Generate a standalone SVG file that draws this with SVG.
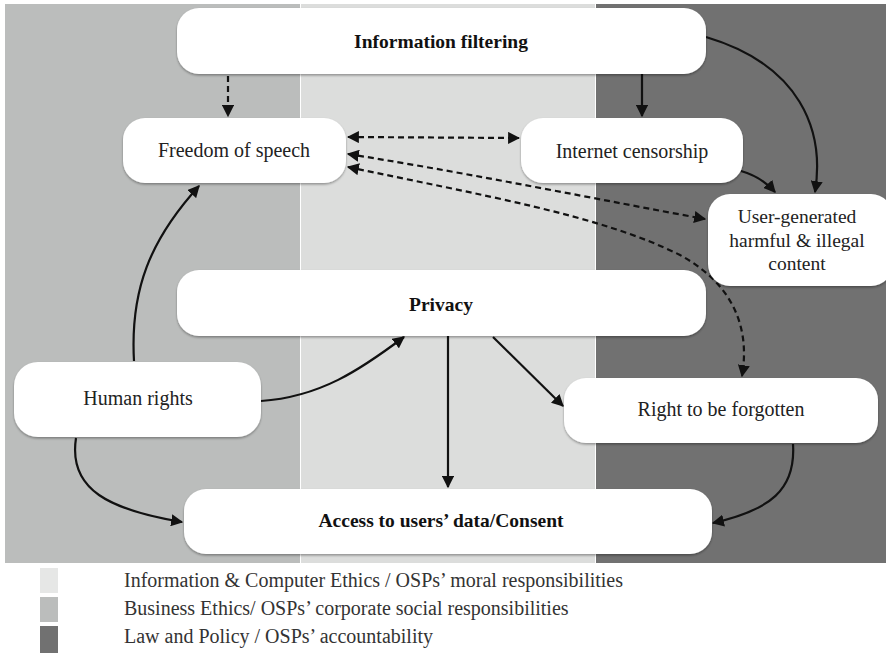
<svg xmlns="http://www.w3.org/2000/svg" width="886" height="653" viewBox="0 0 886 653">
<defs>
<style>
.node{fill:#fff;filter:url(#sh)}
.t{font-family:'Liberation Serif','DejaVu Serif','Times New Roman',serif;font-size:20px;fill:#222;text-anchor:middle}
.b{font-weight:bold;fill:#111;font-size:19.5px}
.u{font-size:19.5px}
.lg{font-family:'Liberation Serif','DejaVu Serif','Times New Roman',serif;font-size:20px;fill:#333}
.c{fill:none;stroke:#111;stroke-width:2.2}
.d{stroke-dasharray:6 4}
</style>
<filter id="sh" x="-5%" y="-10%" width="110%" height="125%">
<feDropShadow dx="0" dy="1.5" stdDeviation="1.2" flood-color="#000" flood-opacity="0.35"/>
</filter>
<marker id="ar" viewBox="0 0 10 10" refX="9" refY="5" markerWidth="5.5" markerHeight="5.5" orient="auto-start-reverse" markerUnits="strokeWidth">
<path d="M0,0 L10,5 L0,10 z" fill="#111"/>
</marker>
</defs>
<rect width="886" height="653" fill="#fff"/>
<g id="bands">
<rect x="5" y="4" width="295" height="559" fill="#bbbdbc"/>
<rect x="301" y="4" width="294" height="559" fill="#dcdddc"/>
<rect x="596" y="4" width="290" height="559" fill="#717171"/>
</g>
<g id="connectors">
<path class="c d" d="M228,76 L228,116" marker-end="url(#ar)"/>
<path class="c" d="M642,74 L642,116" marker-end="url(#ar)"/>
<path class="c" d="M706,37 C800,65 825,130 815,192" marker-end="url(#ar)"/>
<path class="c" d="M741,171 C755,175 767,183 775,192" marker-end="url(#ar)"/>
<path class="c d" d="M348,137 L519,138" marker-start="url(#ar)" marker-end="url(#ar)"/>
<path class="c d" d="M348,154 C480,175 600,200 705,219" marker-start="url(#ar)" marker-end="url(#ar)"/>
<path class="c d" d="M348,167 C480,195 600,215 680,255 C735,285 750,330 742,376" marker-start="url(#ar)" marker-end="url(#ar)"/>
<path class="c" d="M134,361 C130,290 150,240 199,186" marker-end="url(#ar)"/>
<path class="c" d="M261,401 C320,397 360,370 404,337" marker-end="url(#ar)"/>
<path class="c" d="M76,438 C68,490 110,510 182,522" marker-end="url(#ar)"/>
<path class="c" d="M448,336 L448,487" marker-end="url(#ar)"/>
<path class="c" d="M493,337 L563,406" marker-end="url(#ar)"/>
<path class="c" d="M793,444 C796,490 770,510 713,523" marker-end="url(#ar)"/>
</g>
<g id="n-info-filtering">
<rect class="node" x="177" y="8" width="529" height="66" rx="22"/>
<text class="t b" x="441" y="48">Information filtering</text>
</g>
<g id="n-freedom">
<rect class="node" x="123" y="118" width="223" height="65" rx="22"/>
<text class="t" x="234" y="157">Freedom of speech</text>
</g>
<g id="n-censorship">
<rect class="node" x="521" y="118" width="222" height="65" rx="22"/>
<text class="t" x="632" y="158">Internet censorship</text>
</g>
<g id="n-ugc">
<rect class="node" x="708" y="194" width="185" height="92" rx="22"/>
<text class="t u" x="797" y="223">User-generated</text>
<text class="t u" x="797" y="247">harmful &amp; illegal</text>
<text class="t u" x="797" y="270">content</text>
</g>
<g id="n-privacy">
<rect class="node" x="177" y="270" width="529" height="66" rx="22"/>
<text class="t b" x="441" y="311">Privacy</text>
</g>
<g id="n-human">
<rect class="node" x="14" y="362" width="247" height="75" rx="24"/>
<text class="t" x="138" y="405">Human rights</text>
</g>
<g id="n-rtbf">
<rect class="node" x="564" y="378" width="314" height="65" rx="22"/>
<text class="t" x="721" y="416">Right to be forgotten</text>
</g>
<g id="n-access">
<rect class="node" x="184" y="489" width="528" height="65" rx="22"/>
<text class="t b" x="441" y="527">Access to users’ data/Consent</text>
</g>
<g id="legend">
<rect x="40" y="568" width="18" height="25" fill="#e6e7e6"/>
<rect x="40" y="597" width="18" height="25" fill="#bbbdbc"/>
<rect x="40" y="626" width="18" height="27" fill="#717171"/>
<text class="lg" x="124" y="587">Information &amp; Computer Ethics / OSPs’ moral responsibilities</text>
<text class="lg" x="124" y="615">Business Ethics/ OSPs’ corporate social responsibilities</text>
<text class="lg" x="124" y="643">Law and Policy / OSPs’ accountability</text>
</g>
</svg>
